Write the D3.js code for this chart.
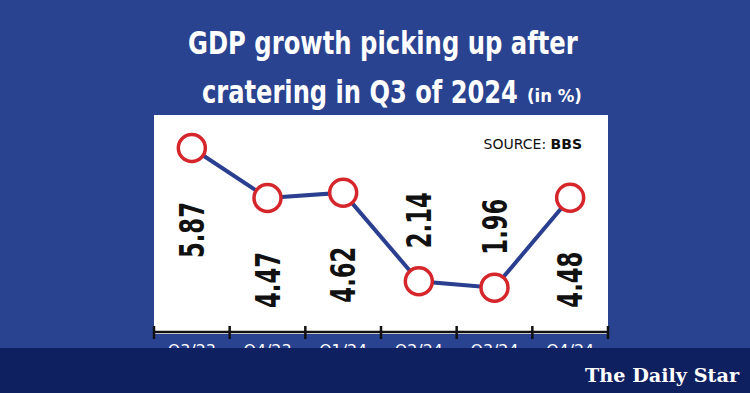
<!DOCTYPE html>
<html>
<head>
<meta charset="utf-8">
<script src="https://cdn.jsdelivr.net/npm/d3@7"></script>
<style>
  body { margin: 0; background: #2a4390; }
  svg { display: block; }
</style>
</head>
<body>
<svg></svg>
<script>
// размеры
const width = 750;
const height = 393;

// данные
const quarters = ["Q3/23", "Q4/23", "Q1/24", "Q2/24", "Q3/24", "Q4/24"];
const growth = [5.87, 4.47, 4.62, 2.14, 1.96, 4.48];
const labelAbove = [false, false, false, true, true, false];

const condensed = "'DejaVu Sans', sans-serif";

let svg = d3.select("svg")
    .attr("width", width)
    .attr("height", height);

svg.append("rect")
    .attr("width", width)
    .attr("height", height)
    .attr("fill", "#2a4390");

// сжимаем текст по горизонтали до нужной ширины (узкого шрифта нет)
function squeeze(sel, x0, y0, w) {
    let len = sel.node().getComputedTextLength();
    sel.attr("transform", `translate(${x0}, ${y0}) scale(${w / len}, 1)`);
}

// заголовок
let title = svg.append("g")
    .style("fill", "#fff")
    .style("font-family", condensed)
    .style("font-weight", "bold");

let t1 = title.append("text")
    .style("font-size", "32px")
    .text("GDP growth picking up after");
squeeze(t1, 188, 54, 390);

let t2 = title.append("text")
    .style("font-size", "32px")
    .text("cratering in Q3 of 2024");
squeeze(t2, 202, 103, 316);

let t3 = title.append("text")
    .style("font-size", "17px")
    .text("(in %)");
squeeze(t3, 527, 102, 55);

// белая панель
const panel = {x0: 154, x1: 608, y0: 115, y1: 334};
svg.append("rect")
    .attr("x", panel.x0)
    .attr("y", panel.y0)
    .attr("width", panel.x1 - panel.x0)
    .attr("height", panel.y1 - panel.y0)
    .attr("fill", "#fff");

// шкалы
let x = d3.scaleBand()
    .domain(quarters)
    .range([panel.x0, panel.x1]);

let y = d3.scaleLinear()
    .domain([0, 6])
    .range([357.6, 143.4]);

// ось X
let axis = svg.append("g")
    .attr("transform", `translate(0, 332)`)
    .call(d3.axisBottom(x).tickSize(0).tickPadding(13));
axis.select(".domain")
    .attr("stroke", "#111")
    .attr("stroke-width", 2.5)
    .attr("d", `M${panel.x0},0H${panel.x1}`);
axis.selectAll("text")
    .attr("fill", "#fff")
    .attr("textLength", 48)
    .attr("lengthAdjust", "spacingAndGlyphs")
    .style("font-family", condensed)
    .style("font-size", "16px");

// засечки на границах
let edges = [panel.x0].concat(quarters.map(q => x(q) + x.bandwidth()));
svg.append("g")
    .selectAll("line")
    .data(edges)
    .join("line")
    .attr("x1", d => d)
    .attr("x2", d => d)
    .attr("y1", 326)
    .attr("y2", 339)
    .attr("stroke", "#111")
    .attr("stroke-width", 2.5);

// линия
let line = d3.line()
    .x((d, i) => x(quarters[i]) + x.bandwidth() / 2)
    .y(d => y(d));

svg.append("path")
    .attr("d", line(growth))
    .attr("fill", "none")
    .attr("stroke", "#2a3f8f")
    .attr("stroke-width", 4);

// точки
svg.append("g")
    .selectAll("circle")
    .data(growth)
    .join("circle")
    .attr("cx", (d, i) => x(quarters[i]) + x.bandwidth() / 2)
    .attr("cy", d => y(d))
    .attr("r", 13.5)
    .attr("fill", "#fff")
    .attr("stroke", "#d5262c")
    .attr("stroke-width", 3.5);

// подписи значений
svg.append("g")
    .selectAll("text")
    .data(growth)
    .join("text")
    .attr("transform", (d, i) => {
        let cx = x(quarters[i]) + x.bandwidth() / 2;
        let cy = y(d) + (labelAbove[i] ? -61 : 82);
        return `translate(${cx}, ${cy}) rotate(-90)`;
    })
    .attr("x", -28)
    .attr("dy", "0.36em")
    .attr("textLength", 56)
    .attr("lengthAdjust", "spacingAndGlyphs")
    .style("font-family", condensed)
    .style("font-weight", "bold")
    .style("font-size", "34px")
    .style("fill", "#111")
    .text(d => d.toFixed(2));

// источник
let src = svg.append("text")
    .attr("x", 582)
    .attr("y", 149)
    .attr("text-anchor", "end")
    .style("font-family", "'DejaVu Sans', sans-serif")
    .style("font-size", "14px")
    .style("fill", "#111");
src.append("tspan").text("SOURCE: ");
src.append("tspan").style("font-weight", "bold").text("BBS");

// нижняя полоса
svg.append("rect")
    .attr("x", 0)
    .attr("y", 348)
    .attr("width", width)
    .attr("height", height - 348)
    .attr("fill", "#0f2060");

svg.append("text")
    .attr("x", 585)
    .attr("y", 382)
    .attr("textLength", 154)
    .attr("lengthAdjust", "spacingAndGlyphs")
    .style("font-family", "'DejaVu Serif', serif")
    .style("font-weight", "bold")
    .style("font-size", "19px")
    .style("fill", "#fff")
    .text("The Daily Star");
</script>
</body>
</html>
